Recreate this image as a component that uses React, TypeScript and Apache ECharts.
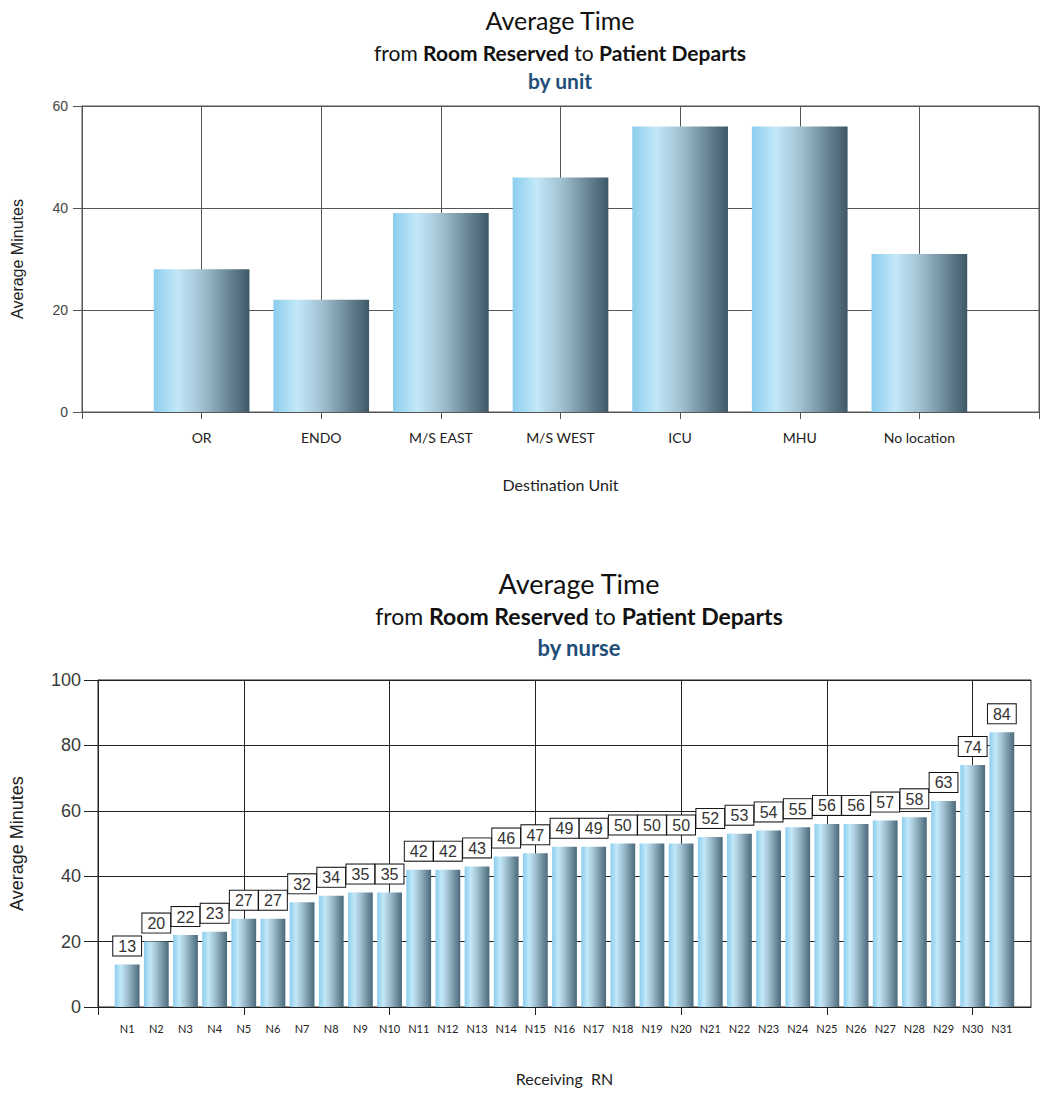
import React, { useEffect, useRef } from "react";
import * as echarts from "echarts";

// ---- Data ----
const unitCategories = ["OR", "ENDO", "M/S EAST", "M/S WEST", "ICU", "MHU", "No location"];
const unitValues = [28, 22, 39, 46, 56, 56, 31];
const unitYTicks = [0, 20, 40, 60];

const nurseCategories = [
  "N1", "N2", "N3", "N4", "N5", "N6", "N7", "N8", "N9", "N10",
  "N11", "N12", "N13", "N14", "N15", "N16", "N17", "N18", "N19", "N20",
  "N21", "N22", "N23", "N24", "N25", "N26", "N27", "N28", "N29", "N30", "N31",
];
const nurseValues = [
  13, 20, 22, 23, 27, 27, 32, 34, 35, 35,
  42, 42, 43, 46, 47, 49, 49, 50, 50, 50,
  52, 53, 54, 55, 56, 56, 57, 58, 63, 74, 84,
];
const nurseYTicks = [0, 20, 40, 60, 80, 100];

const TITLE_FONT = "Lato, 'Open Sans', sans-serif";
const AXIS_FONT = "'Liberation Sans', Arial, sans-serif";

function titleBlock(
  cx: number,
  centers: number[],
  sizes: number[],
  byText: string
) {
  const [s1, s2, s3] = sizes;
  const lh1 = s1 + 4;
  const lh2 = s2 + 4;
  const lh3 = s3 + 4;
  return [
    {
      left: cx,
      textAlign: "center",
      top: centers[0] - lh1 / 2,
      padding: 0,
      text: "Average Time",
      textStyle: { fontFamily: TITLE_FONT, fontSize: s1, fontWeight: "normal", color: "#111", lineHeight: lh1 },
    },
    {
      left: cx,
      textAlign: "center",
      top: centers[1] - lh2 / 2,
      padding: 0,
      text: "{n|from }{b|Room Reserved}{n| to }{b|Patient Departs}",
      textStyle: {
        fontWeight: "normal",
        rich: {
          n: { fontFamily: TITLE_FONT, fontSize: s2, fontWeight: "normal", color: "#111", lineHeight: lh2 },
          b: { fontFamily: TITLE_FONT, fontSize: s2, fontWeight: "bold", color: "#111", lineHeight: lh2 },
        },
      },
    },
    {
      left: cx,
      textAlign: "center",
      top: centers[2] - lh3 / 2,
      padding: 0,
      text: byText,
      textStyle: { fontFamily: TITLE_FONT, fontSize: s3, fontWeight: "bold", color: "#1f4e79", lineHeight: lh3 },
    },
  ];
}

function barGradient(end: string) {
  return new echarts.graphic.LinearGradient(0, 0, 1, 0, [
    { offset: 0, color: "#8ccdee" },
    { offset: 0.25, color: "#c3e8f8" },
    { offset: 0.5, color: "#a2c2d2" },
    { offset: 1, color: end },
  ]);
}

export default function App() {
  const ref = useRef<HTMLDivElement>(null);

  useEffect(() => {
    document.body.style.margin = "0";
    if (!ref.current) return;
    const chart = echarts.init(ref.current, undefined, { renderer: "svg" });

    const unitAxisData = ["", ...unitCategories, ""];
    const unitSeriesData = ["-", ...unitValues, "-"];
    const nurseAxisData = ["", ...nurseCategories, ""];
    const nurseSeriesData = ["-", ...nurseValues, "-"];

    const option: any = {
      animation: false,
      backgroundColor: "#ffffff",
      title: [
        ...titleBlock(560, [20, 52, 80], [25, 21, 21], "by unit"),
        ...titleBlock(579, [583, 616, 647], [27, 23, 22], "by nurse"),
      ],
      grid: [
        {
          left: 82,
          right: 13,
          top: 106,
          height: 306,
          show: true,
          borderColor: "#555",
          borderWidth: 1,
          backgroundColor: "transparent",
        },
        {
          left: 98,
          right: 21,
          top: 680,
          height: 327,
          show: true,
          borderColor: "#222",
          borderWidth: 1,
          backgroundColor: "transparent",
        },
      ],
      xAxis: [
        {
          gridIndex: 0,
          type: "category",
          data: unitAxisData,
          boundaryGap: false,
          name: "Destination Unit",
          nameLocation: "middle",
          nameGap: 64,
          nameTextStyle: { fontFamily: TITLE_FONT, fontSize: 16, color: "#222" },
          axisLine: { lineStyle: { color: "#555", width: 1 } },
          axisTick: { show: true, length: 7, interval: 0, lineStyle: { color: "#555" } },
          axisLabel: { interval: 0, margin: 18, fontFamily: TITLE_FONT, fontSize: 14, color: "#222" },
          splitLine: { show: true, interval: 0, lineStyle: { color: "#555", width: 1 } },
        },
        {
          gridIndex: 1,
          type: "category",
          data: nurseAxisData,
          boundaryGap: false,
          name: "Receiving  RN",
          nameLocation: "middle",
          nameGap: 63,
          nameTextStyle: { fontFamily: TITLE_FONT, fontSize: 16, color: "#222" },
          axisLine: { lineStyle: { color: "#222", width: 1 } },
          axisTick: {
            show: true,
            length: 8,
            interval: (i: number) => i % 5 === 0,
            lineStyle: { color: "#222" },
          },
          axisLabel: { interval: 0, margin: 16, fontFamily: TITLE_FONT, fontSize: 11, color: "#222" },
          splitLine: {
            show: true,
            interval: (i: number) => i % 5 === 0,
            lineStyle: { color: "#222", width: 1 },
          },
        },
      ],
      yAxis: [
        {
          gridIndex: 0,
          type: "value",
          min: unitYTicks[0],
          max: unitYTicks[unitYTicks.length - 1],
          interval: unitYTicks[1] - unitYTicks[0],
          name: "Average Minutes",
          nameLocation: "middle",
          nameGap: 57,
          nameTextStyle: { fontFamily: AXIS_FONT, fontSize: 16, color: "#222" },
          axisLine: { show: true, lineStyle: { color: "#555", width: 1 } },
          axisTick: { show: true, length: 9, lineStyle: { color: "#555" } },
          axisLabel: { margin: 14, fontFamily: AXIS_FONT, fontSize: 14, color: "#444" },
          splitLine: { show: true, lineStyle: { color: "#555", width: 1 } },
        },
        {
          gridIndex: 1,
          type: "value",
          min: nurseYTicks[0],
          max: nurseYTicks[nurseYTicks.length - 1],
          interval: nurseYTicks[1] - nurseYTicks[0],
          name: "Average Minutes",
          nameLocation: "middle",
          nameGap: 72,
          nameTextStyle: { fontFamily: AXIS_FONT, fontSize: 18, color: "#222" },
          axisLine: { show: true, lineStyle: { color: "#222", width: 1 } },
          axisTick: { show: true, length: 14, lineStyle: { color: "#222" } },
          axisLabel: { margin: 17, fontFamily: AXIS_FONT, fontSize: 18, color: "#3a3a3a" },
          splitLine: { show: true, lineStyle: { color: "#222", width: 1 } },
        },
      ],
      series: [
        {
          type: "bar",
          xAxisIndex: 0,
          yAxisIndex: 0,
          data: unitSeriesData,
          barWidth: "80%",
          itemStyle: { color: barGradient("#3e5867") },
        },
        {
          type: "bar",
          xAxisIndex: 1,
          yAxisIndex: 1,
          data: nurseSeriesData,
          barWidth: "85%",
          itemStyle: { color: barGradient("#4a6a7b") },
          label: {
            show: true,
            position: "top",
            distance: 9,
            fontFamily: AXIS_FONT,
            fontSize: 16,
            color: "#333",
            backgroundColor: "#ffffff",
            borderColor: "#111",
            borderWidth: 1,
            padding: [2, 5, 1, 5],
            lineHeight: 16,
          },
        },
      ],
    };

    chart.setOption(option);
    return () => {
      chart.dispose();
    };
  }, []);

  return <div ref={ref} style={{ width: 1052, height: 1100 }} />;
}
